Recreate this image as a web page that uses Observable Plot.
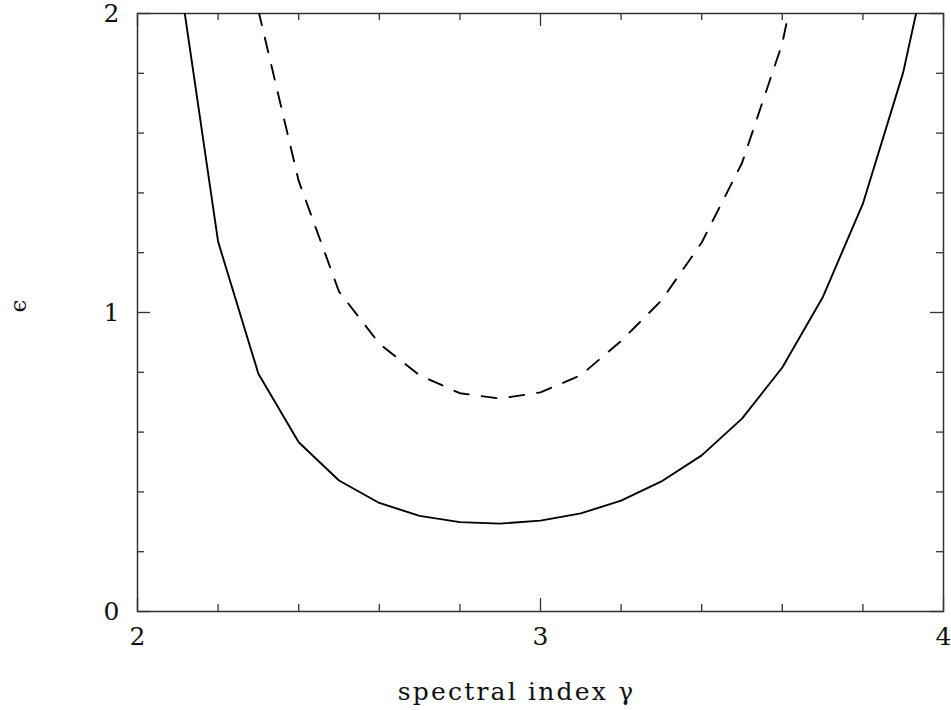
<!DOCTYPE html>
<html>
<head>
<meta charset="utf-8">
<script src="https://cdn.jsdelivr.net/npm/d3@7"></script>
<script src="https://cdn.jsdelivr.net/npm/@observablehq/plot@0.6"></script>
<style>
  html, body { margin: 0; padding: 0; background: #fff; }
  .xlabel { letter-spacing: 2.2px; }
</style>
</head>
<body>
<div id="chart"></div>
<script>
// spectral index values and curve values
const gammaSolid = [2.1, 2.2, 2.3, 2.4, 2.5, 2.6, 2.7, 2.8, 2.9, 3.0, 3.1, 3.2, 3.3, 3.4, 3.5, 3.6, 3.7, 3.8, 3.9, 4.0];
const epsSolid   = [2.16, 1.237, 0.795, 0.566, 0.438, 0.363, 0.32, 0.299, 0.294, 0.304, 0.328, 0.371, 0.435, 0.522, 0.645, 0.816, 1.05, 1.364, 1.803, 2.42];
const gammaDashed = [2.3, 2.4, 2.5, 2.6, 2.7, 2.8, 2.9, 3.0, 3.1, 3.2, 3.3, 3.4, 3.5, 3.6, 3.7];
const epsDashed   = [2.01, 1.44, 1.07, 0.896, 0.79, 0.73, 0.712, 0.733, 0.79, 0.905, 1.04, 1.234, 1.50, 1.90, 2.55];

const xMajor = [2, 3, 4];
const xMinor = [2.2, 2.4, 2.6, 2.8, 3.2, 3.4, 3.6, 3.8];
const yMajor = [0, 1, 2];
const yMinor = [0.2, 0.4, 0.6, 0.8, 1.2, 1.4, 1.6, 1.8];
const xTitle = "spectral index γ";
const yTitle = "ϵ";

const solid = gammaSolid.map((g, i) => ({g, e: epsSolid[i]}));
const dashed = gammaDashed.map((g, i) => ({g, e: epsDashed[i]}));

const W = 951, H = 710, mL = 137, mR = 8, mT = 13, mB = 99;
const iW = W - mL - mR, iH = H - mT - mB;
const minor = 7, major = 13;
const tickStyle = {stroke: "#333", strokeWidth: 1.3};

const chart = Plot.plot({
  width: W, height: H,
  marginLeft: mL, marginRight: mR, marginTop: mT, marginBottom: mB,
  style: {fontFamily: "DejaVu Serif", background: "#fff", color: "#111"},
  x: {domain: [2, 4], axis: null},
  y: {domain: [0, 2], axis: null},
  marks: [
    // ticks, bottom/top
    Plot.tickX(xMinor, {x: d => d, insetTop: iH - minor, ...tickStyle}),
    Plot.tickX(xMinor, {x: d => d, insetBottom: iH - minor, ...tickStyle}),
    Plot.tickX(xMajor, {x: d => d, insetTop: iH - major, ...tickStyle}),
    Plot.tickX(xMajor, {x: d => d, insetBottom: iH - major, ...tickStyle}),
    // ticks, left/right
    Plot.tickY(yMinor, {y: d => d, insetRight: iW - minor, ...tickStyle}),
    Plot.tickY(yMinor, {y: d => d, insetLeft: iW - minor, ...tickStyle}),
    Plot.tickY(yMajor, {y: d => d, insetRight: iW - major, ...tickStyle}),
    Plot.tickY(yMajor, {y: d => d, insetLeft: iW - major, ...tickStyle}),
    Plot.frame({stroke: "#333", strokeWidth: 1.5}),
    // tick labels
    Plot.axisX(xMajor, {tickSize: 0, tickPadding: 16, fontSize: 25, tickFormat: d => String(d), fill: "#111", label: null}),
    Plot.axisY(yMajor, {tickSize: 0, tickPadding: 18, fontSize: 25, tickFormat: d => String(d), fill: "#111", label: null}),
    // curves
    Plot.line(solid, {x: "g", y: "e", stroke: "#000", strokeWidth: 1.9, clip: true}),
    Plot.line(dashed, {x: "g", y: "e", stroke: "#000", strokeWidth: 1.9, strokeDasharray: "15,13", clip: true}),
    // titles
    Plot.text([xTitle], {text: d => d, frameAnchor: "bottom", dx: -24, dy: 88, fontSize: 25, fill: "#111", className: "xlabel"}),
    Plot.text([yTitle], {text: d => d, frameAnchor: "left", dx: -119, rotate: -90, fontSize: 23, fill: "#111"})
  ]
});
document.getElementById("chart").appendChild(chart);
</script>
</body>
</html>
